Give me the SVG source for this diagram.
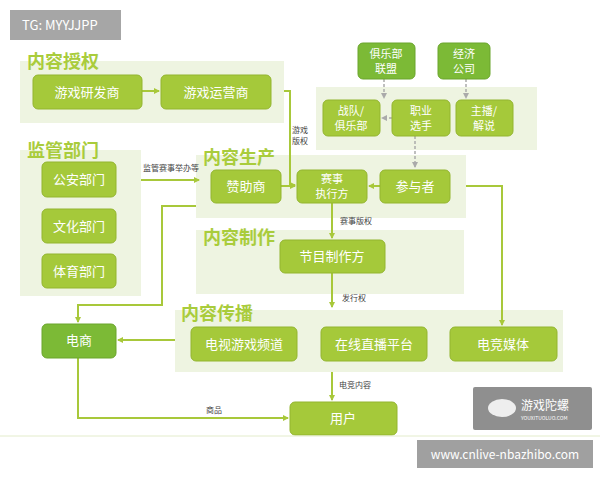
<svg xmlns="http://www.w3.org/2000/svg" width="600" height="480" viewBox="0 0 600 480">
<style>
text{font-family:"Noto Sans CJK SC","Liberation Sans",sans-serif}
.p{fill:#eef4e1}
.t{fill:#a9cc3c;font-size:18px;font-weight:bold}
.b{fill:#a5c93a;stroke:#93b52f;stroke-width:1}
.d{fill:#7cba36;stroke:#6aa52c;stroke-width:1}
.l{fill:#fff;font-size:13px;text-anchor:middle}
.m{fill:#fff;font-size:11px;text-anchor:middle}
.s{fill:#444;font-size:8px}
.c{fill:none;stroke:#a8c83a;stroke-width:2}
.k{fill:none;stroke:#aaa;stroke-width:1.5;stroke-dasharray:3,2}
</style>
<defs>
<marker id="a" markerWidth="6" markerHeight="6" refX="5" refY="3" orient="auto" markerUnits="userSpaceOnUse"><path d="M0,0L6,3L0,6z" fill="#a8c83a"/></marker>
<marker id="g" markerWidth="6" markerHeight="6" refX="5" refY="3" orient="auto" markerUnits="userSpaceOnUse"><path d="M0,0L6,3L0,6z" fill="#aaa"/></marker>
</defs>
<rect width="600" height="480" fill="#fff"/>
<g id="tg"><rect x="10" y="10" width="111" height="30" fill="#a6a6a6"/><text x="22" y="30" fill="#fff" font-size="13">TG: MYYJJPP</text></g>
<g id="panels">
<rect class="p" x="20" y="61" width="264" height="62"/><text class="t" x="27" y="68">内容授权</text>
<rect class="p" x="316" y="87" width="221" height="63"/>
<rect class="p" x="20" y="150" width="121" height="146"/><text class="t" x="27" y="157">监管部门</text>
<rect class="p" x="196" y="155" width="270" height="63"/><text class="t" x="203" y="164">内容生产</text>
<rect class="p" x="196" y="230" width="268" height="64"/><text class="t" x="203" y="244">内容制作</text>
<rect class="p" x="175" y="310" width="388" height="62"/><text class="t" x="181" y="320">内容传播</text>
</g>
<g id="connectors">
<line class="c" x1="142" y1="91" x2="159" y2="91" marker-end="url(#a)"/>
<polyline class="c" points="284,91 290,91 290,185 295,185" marker-end="url(#a)"/>
<text class="s" x="292" y="133">游戏</text><text class="s" x="292" y="144">版权</text>
<line class="c" x1="141" y1="180" x2="199" y2="180" marker-end="url(#a)"/>
<text class="s" x="143" y="171">监管赛事举办等</text>
<line class="c" x1="281" y1="186" x2="295" y2="186" marker-end="url(#a)"/>
<line class="c" x1="380" y1="186" x2="369" y2="186" marker-end="url(#a)"/>
<polyline class="c" points="466,186 502,186 502,325" marker-end="url(#a)"/>
<line class="c" x1="332" y1="203" x2="332" y2="238" marker-end="url(#a)"/>
<text class="s" x="340" y="224">赛事版权</text>
<polyline class="c" points="196,206 162,206 162,305 78,305 78,322" marker-end="url(#a)"/>
<line class="c" x1="332" y1="273" x2="332" y2="307" marker-end="url(#a)"/>
<text class="s" x="342" y="301">发行权</text>
<line class="c" x1="175" y1="340" x2="118" y2="340" marker-end="url(#a)"/>
<line class="c" x1="332" y1="372" x2="332" y2="400" marker-end="url(#a)"/>
<text class="s" x="339" y="388">电竞内容</text>
<polyline class="c" points="78,358 78,418 288,418" marker-end="url(#a)"/>
<text class="s" x="206" y="413">商品</text>
<line class="k" x1="384" y1="79" x2="384" y2="98" marker-end="url(#g)"/>
<line class="k" x1="466" y1="79" x2="466" y2="98" marker-end="url(#g)"/>
<line class="k" x1="392" y1="118" x2="382" y2="118" marker-end="url(#g)"/>
<line class="k" x1="415" y1="136" x2="415" y2="167" marker-end="url(#g)"/>
</g>
<g id="n1"><rect class="b" x="33" y="75" width="109" height="34" rx="5"/><text class="l" x="87" y="97">游戏研发商</text></g>
<g id="n2"><rect class="b" x="161" y="75" width="110" height="34" rx="5"/><text class="l" x="216" y="97">游戏运营商</text></g>
<g id="n3"><rect class="d" x="358" y="43" width="57" height="36" rx="5"/><text class="m" x="386" y="58">俱乐部</text><text class="m" x="386" y="73">联盟</text></g>
<g id="n4"><rect class="d" x="438" y="43" width="52" height="36" rx="5"/><text class="m" x="464" y="58">经济</text><text class="m" x="464" y="73">公司</text></g>
<g id="n5"><rect class="b" x="323" y="100" width="57" height="36" rx="5"/><text class="m" x="351" y="115">战队/</text><text class="m" x="351" y="130">俱乐部</text></g>
<g id="n6"><rect class="b" x="392" y="100" width="58" height="36" rx="5"/><text class="m" x="421" y="115">职业</text><text class="m" x="421" y="130">选手</text></g>
<g id="n7"><rect class="b" x="456" y="100" width="57" height="36" rx="5"/><text class="m" x="484" y="115">主播/</text><text class="m" x="484" y="130">解说</text></g>
<g id="n8"><rect class="b" x="42" y="162" width="74" height="35" rx="5"/><text class="l" x="79" y="184">公安部门</text></g>
<g id="n9"><rect class="b" x="42" y="209" width="74" height="34" rx="5"/><text class="l" x="79" y="231">文化部门</text></g>
<g id="n10"><rect class="b" x="42" y="254" width="74" height="34" rx="5"/><text class="l" x="79" y="276">体育部门</text></g>
<g id="n11"><rect class="b" x="211" y="170" width="70" height="33" rx="5"/><text class="l" x="246" y="191">赞助商</text></g>
<g id="n12"><rect class="b" x="297" y="170" width="70" height="33" rx="5"/><text class="m" x="332" y="183">赛事</text><text class="m" x="332" y="198">执行方</text></g>
<g id="n13"><rect class="b" x="380" y="170" width="70" height="33" rx="5"/><text class="l" x="415" y="191">参与者</text></g>
<g id="n14"><rect class="b" x="280" y="240" width="105" height="33" rx="5"/><text class="l" x="332" y="261">节目制作方</text></g>
<g id="n15"><rect class="d" x="42" y="324" width="74" height="34" rx="5"/><text class="l" x="79" y="345" font-size="12">电商</text></g>
<g id="n16"><rect class="b" x="191" y="327" width="106" height="34" rx="5"/><text class="l" x="244" y="349">电视游戏频道</text></g>
<g id="n17"><rect class="b" x="321" y="327" width="106" height="34" rx="5"/><text class="l" x="374" y="349">在线直播平台</text></g>
<g id="n18"><rect class="b" x="450" y="327" width="107" height="34" rx="5"/><text class="l" x="503" y="349">电竞媒体</text></g>
<g id="n19"><rect class="b" x="290" y="402" width="107" height="33" rx="5"/><text class="l" x="343" y="423">用户</text></g>
<line x1="0" y1="436" x2="600" y2="436" stroke="#e3eccb" stroke-width="1"/>
<g id="logo"><rect x="473" y="387" width="119" height="43" rx="2" fill="#8f8f8f"/><ellipse cx="502" cy="408" rx="14" ry="9" fill="#eee"/><text x="521" y="410" fill="#fff" font-size="12">游戏陀螺</text><text x="521" y="420" fill="#fff" font-size="5">YOUXITUOLUO.COM</text></g>
<g id="wm"><rect x="417" y="440" width="176" height="28" fill="#a0a0a0"/><text x="505" y="459" fill="#fff" font-size="12" text-anchor="middle">www.cnlive-nbazhibo.com</text></g>
</svg>
